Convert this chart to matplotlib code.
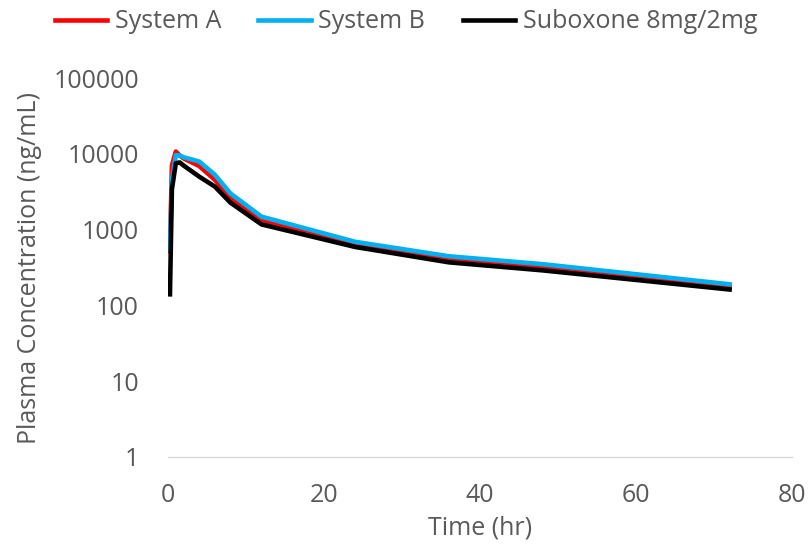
import matplotlib.pyplot as plt
from matplotlib.ticker import FixedLocator, FixedFormatter

plt.rcParams['font.family'] = ['Open Sans', 'DejaVu Sans']

time_hr = [0.25, 0.5, 1, 1.5, 2, 4, 6, 8, 12, 24, 36, 48, 72]
system_a = [520, 7000, 10700, 9500, 8700, 6900, 4550, 2650, 1330, 650, 400, 320, 174]
system_b = [540, 4500, 9600, 9500, 9000, 7900, 5300, 3000, 1480, 690, 445, 350, 190]
suboxone = [140, 3400, 7500, 7700, 7000, 5000, 3700, 2270, 1170, 590, 370, 290, 162]

series_names = ['System A', 'System B', 'Suboxone 8mg/2mg']
series_colors = ['#FF0000', '#00B0F0', '#000000']

y_ticks = [1, 10, 100, 1000, 10000, 100000]
x_ticks = [0, 20, 40, 60, 80]

text_col = '#595959'

fig = plt.figure(figsize=(8.12, 5.53), dpi=100)
ax = fig.add_axes([168 / 812, 1 - 457 / 553, 624 / 812, 379 / 553])

for vals, name, col in zip([system_a, system_b, suboxone], series_names, series_colors):
    ax.plot(time_hr, vals, color=col, lw=3.3, label=name, solid_joinstyle='round')

ax.set_yscale('log')
ax.set_ylim(1, 100000)
ax.set_xlim(0, 80)
ax.yaxis.set_major_locator(FixedLocator(y_ticks))
ax.yaxis.set_major_formatter(FixedFormatter([str(v) for v in y_ticks]))
ax.yaxis.set_minor_locator(FixedLocator([]))
ax.set_xticks(x_ticks)

for s in ['top', 'right', 'left']:
    ax.spines[s].set_visible(False)
ax.spines['bottom'].set_color('#D9D9D9')
ax.spines['bottom'].set_linewidth(1)

ax.tick_params(axis='y', length=0, pad=21, labelsize=18, labelcolor=text_col)
ax.tick_params(axis='x', length=0, pad=19, labelsize=18, labelcolor=text_col)

ax.set_xlabel('Time (hr)', fontsize=18, color=text_col, labelpad=5)
ax.set_ylabel('Plasma Concentration (ng/mL)', fontsize=18, color=text_col, labelpad=8)

leg = fig.legend(loc='center', bbox_to_anchor=(0.5, 1 - 22 / 553), ncol=3, frameon=False,
                 fontsize=18, handlelength=2.1, handletextpad=0.3, columnspacing=1.5,
                 labelcolor=text_col)

fig.savefig('out.png', dpi=100)
